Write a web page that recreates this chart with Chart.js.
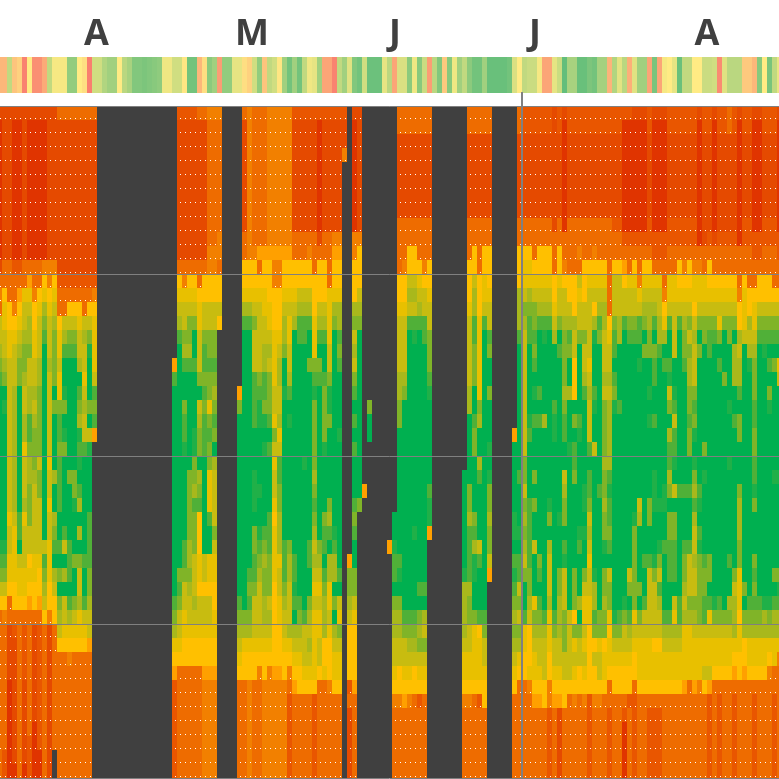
<!DOCTYPE html>
<html>
<head>
<meta charset="utf-8">
<title>Heatmap</title>
<script src="https://cdn.jsdelivr.net/npm/chart.js@4"></script>
<style>
  html, body { margin: 0; background: #fff; overflow: hidden; width: 779px; height: 779px; }
  canvas { position: absolute; left: -3px; }
  #stripChart { top: 0; }
  #heatChart { top: 92px; }
</style>
</head>
<body>
<canvas id="stripChart" width="785" height="93"></canvas>
<canvas id="heatChart" width="785" height="687"></canvas>
<script>
// month letters and the column they sit over
const monthLabels = ["A", "M", "J", "J", "A"];
const monthTicks = [19.9, 51, 79.6, 107.6, 142];

// day score shown in the strip above the heatmap, 0 (red) .. 5 (yellow) .. 10 (green)
const stripValues = [
  3, 3, 7, 3.5, 4, 1, 5, 1.5, 1.5, 2.5, 7, 5.3, 5.3, 5.3, 8.5, 8.5, 5, 4.5, 0.8, 6.5,
  6.5, 7.5, 8, 8, 5, 7.2, 7.8, 9, 9, 9.2, 9, 8.8, 8.6, 5.5, 5.5, 6.5, 6.5, 4.8, 9.5, 9.5,
  3, 4.5, 8.7, 8, 2, 8.5, 8.5, 5.8, 5.8, 4.5, 4, 6.5, 8.5, 3.5, 7, 6.5, 4.8, 8, 9.5, 8,
  9.5, 7, 5.5, 5.8, 8, 2.3, 2.3, 1, 7, 8, 6, 9, 9.5, 6.5, 9.7, 9.7, 9.7, 5.8, 7.2, 2.3,
  6.2, 6.2, 8.7, 5.5, 8.8, 6.7, 2, 7.2, 9, 3.7, 8.8, 5.5, 8, 7, 8.7, 9.5, 9.5, 8, 9.8, 9.8,
  9.8, 9.8, 9.5, 6.2, 5, 7, 6.7, 6.7, 5.3, 2.3, 2.3, 5.8, 6.7, 10, 7.8, 7.8, 9.8, 9.8, 9.2, 9.5,
  7.9, 7.9, 2.9, 7.5, 5.9, 7.2, 2.7, 6, 8, 8, 2.3, 9.3, 2.3, 5.3, 5, 5.8, 9.8, 7, 7, 5,
  5, 6.7, 6.7, 6.5, 1.3, 6, 7.2, 7.2, 7.2, 3.7, 3.7, 3, 8.8, 5, 9.3, 7, 5.7
];

// heat level per column, 48 half hour rows top to bottom, grouped in twelves
// a..n runs from red to green, # is no data
const heatColumns = [
  "baaaaaaaaaab dediijklnnnn nnnnnnnmlkig dddddddddddd",
  "bbbbbbbbbbbd dghhiijknmnn nnnnnnnmlkig edddddddddcc",
  "bbbbbbbbbbbd ddgghhiiiiii iiiiihiihhgd dbbbbaaaaaaa",
  "baaaaaaaaaac ddeghiiijjjj jjjjjihhhhgg dcbbbbbbbbba",
  "baaaaaaaaaac dfghijkknnnn nnnnnllnihhg dddddddddddd",
  "bbbbbbbbbbbd dhiijkkjiijj hiiijhiiihhg dccccbbbbbba",
  "baaaaaaaaaad fhijjkiijjll kjjkkkiighgf dddddddddccc",
  "baaaaaaaaaad degghhiijijk kkjiiiiihhgg dbbbbbbbaaaa",
  "baaaaaaaaaad dghiiijjkkkk kikkiiiihggf dcccccccccaa",
  "baaaaaaaaaae ghjklnnnnnnn nnnnnnnilkji gddddddddddd",
  "bbbbbbbbbbbe eghiiijiiiii ihiihiihhhgg ebbbbbbbbbbb",
  "bbbbbbbbbbbe ghijkkkknknn nnjnnjklnjig gddddddddd##",
  "dbbbbbbbbbbb cddghhihhkll kllllnnlnknk jigddddddddd",
  "dbbbbbbbbbbb cddijlnnmknm knnnnnlinjni ihgddddddddd",
  "dbbbbbbbbbbb cdgiklnnnnnn nnknnnnlllnl jhgedddddddd",
  "dbbbbbbbbbbb cdgiklnnnnnn nnkkmnnnknnk ihgddddddddd",
  "dbbbbbbbbbbb cdghiijnlkjm lmnljnjnkiij hhgddddddddd",
  "dbbbbbbbbbbb cddijiihijii lnnnnnnnlnnl ihgddddddddd",
  "dbbbbbbbbbbb cdgikmnnnkni mnnnnllllkkj iifddddddddd",
  "dbbbbbbbbbbb ceghhhhilklf",
  "", "", "", "", "", "", "", "", "", "", "", "", "", "", "",
  "############ ######flnnnn nnnnnnnnnnnl kjhgfccccccc",
  "cbbbbbbbbbbd ghijlnnnnnnn nnnnnnnnnklk iihgdddddddd",
  "cbbbbbbbbbbd ehiikjlnnkll mnnnnnnllkii hhggdddddddd",
  "cbbbbbbbbbbd ghikkjlnnnnn nnkkkkkjjkji ihggdddddddd",
  "cbbbbbbbbbbd ghiknnlnnnnm mkkjlkkkiiij ihggdddddddd",
  "dbbbbbbbbbbd dghhiiiknijk knjklggghhgi ihggdddddddd",
  "dbbbbbbbbbbd ggiikllklkll lnnnnnnniigi ihggfeeeeeee",
  "edddddddddee ggiikklkkhkl kkhhhlnnhhgi ihggfeeeeeee",
  "edddddddddee ggiikklkjklk njiiiikihhgg hhggfeeeeeee",
  "eddddddddeed ggig",
  "", "", "",
  "############ ########fknn nnnnnnnnnnnl kjihgddddddd",
  "dbbbbbbbbddg ghjlnnnnnnnn nnnnnnnnnnnn kjhggddddddd",
  "eeeeeeeeeeeg ghjlnnnnnnnn nnnnnnnnnlkl kjhggeeeeeee",
  "ddddddddddeg ghikiiilllln nnmmmnkkllki iihggddddddd",
  "ddddddddddfd ghiiiiiklmmn nnnmnnmlkjii iihgeddddddd",
  "ddddddddddfg ghhiijjllkmn mnnnnnlkjkkj jihggeeeeeee",
  "eeeeeeeeeefg gghhijikkkln lnnnnlllkkki jihgeeeeeeee",
  "eeeeeeeeeefe eggghhhhiihk ihiihghhhhgg ggggfeeeeeee",
  "eeeeeeeeeefe eggghijjiijh illkkjjjhiih hgggfeeeeeee",
  "eeeeeeeeeefg ghijjknnmnnn nnnnnnnlllkj iihggeeeeeee",
  "eeeeeeeeeefg ghihhiijlnmn nnnnnnnkjjii ijhgedcccccc",
  "cbbbbbbbbddg ghijnnnnnnnn nnnnnnnnllml njihgfdddddd",
  "cbbbbbbbbddg gijllnnnnnnn nnnnnnnnnnnl kjihggdddddd",
  "cbbbbbbbbddg gijllnnnnnnn nmnnnnnnnnnn liiihgdddddd",
  "cbbbbbbbbdeg gijlnnknnnnn nnnnnnnllnnk jijihgdddddd",
  "cbbbbbbbbddd ggghhhklmkkk kkjklkjijihi hhhhhgcccccc",
  "caaaaaaaabdg ggijlnklnnnn nnnnnnnkjihi hhiigddddddd",
  "cbbbbbbbbddg ggijlnnlkkkk mnnnnkllnlkj jjgghddddddd",
  "cbbbbbbbbddd dhhhhiikmmkn nnnnkjlnjjhh ihgggedddddd",
  "cbbbbbbbbefg ghjknnnnnnnn nnnnnnmljjnk njihhgdddddd",
  "cbbbbbbbbefg ghjjlklnnnnm nnnnnnnnnlni hkihhgdddddd",
  "cbbe",
  "############ ############ ########fkkj iggggcdbbbbb",
  "baaaaaaaaeeg ggjkijiklnln lnnnlklnnkki hggggfdddddd",
  "bbbbbbbbbegg gijknnnnnnnn nnnnk",
  "############ ############ ###f",
  "############ #########knn",
  "", "", "",
  "############ ############ #######f",
  "############ ############ #####nnmllnk jjiihgeddddd",
  "ddbbbbbbdddd gghiiiijjkkn nnnnnnnnlmnk jjiiggeddddd",
  "ddbbbbbbddde gghiiiijknnn nnnnnnnnnnnn lkiihgfddddd",
  "ddbbbbbbddgg ijilnnnnnnnn nnnnnnnnnnnn lkjihgeddddd",
  "ddbbbbbbddgg ijilmnnnnnnn nnnnnnmnnnnn lkjiggdddddd",
  "ddbbbbbbdddg hijlnnnnnnnn nnnnnnnnnnln kjkihgcddddd",
  "ddbbbbbbddde giillnnnnnnn nnnnnnnnnnln jikihgdddddd",
  "ddbbbbbbdddg ghiikkklmnnn nnnlmmf",
  "", "", "", "", "", "",
  "############ ############ ##nnnnnnnmjj jjihhgeddddd",
  "ddbbbbbbdddg gghiiiiijjnn nnnkkjlllljk kiihhgeddddd",
  "ddbbbbbbddgg ijjllkkknnlk knnnnkljmmnn khhhhgdddddd",
  "ddbbbbbbdddd ggghhhhhhkjn njlnnnnilnnn lghhhgcddddd",
  "ddbbbbbbddgg hhilnnnnnnnn nnnnnnnnnnnn lkiihggddddd",
  "ddbbbbbbddgg ghiilknnknnn mnmkkjkkif",
  "", "", "", "",
  "############ ###########f nnnnnmmnlmlk jkjihgdddddd",
  "ddbbbbbbddgg gjjjlnnnnnnn nnlnnnmnllik ikjhgddddddd",
  "ccbbbbbbddgh hikjiiiiiiii ikkikjkjiknn lhhggddddddd",
  "ccbbbbbbddgh hjkllnnnnnml nnnnlllllkkj iggghedddddd",
  "ccbbbbbbdddg hikklklnmnln nnknknninnnh kjihhgfddddd",
  "ccbbbbbbddgg hijlnnnnlnln nnnnnnnnklnl kjiihgfddddd",
  "ccbbbbbbddgg hijlmnnnnnjn nnnnnnnnnnnn ljiiiggddddd",
  "ccbbbbbbddgg hijlnnnnnnnn nnnnmknjiiij hhhggeeccccc",
  "bbbbbbbbbddd gghijnnnnlmm nnnnnnnnnnnn lkiihgfddddd",
  "ccbbbbbbddgg hiiknlnnnnnn nnnnnmnnnkkj jjiihgfbbbbb",
  "baaaaaaaadde giijkkkkjkll nnijkknlmiii kkkiiggddddd",
  "ccbbbbbbdddd ggijlknnjnnn mnnnnnnnnnnn iiiiigdddddd",
  "ccbbbbbbdddd gggjiigggnkn llknnnnnnkkk gkhihgeddddd",
  "ccbbbbbbdded ihiiknnnnnlm nnnnnnmlnnnj nkiiggdddddd",
  "ccbbbbbbdddg ggiikiijlnnn nnnmmnmnnkih hihihgeddddd",
  "ccbbbbbbdddg hiiiiihijiii lnllkijihiih hgggggcccccc",
  "ccbbbbbbddeg higjmnnnlmnn innnnnnnnmjj lkgiggeddddd",
  "ccbbbbbbdddg hijlknnnnnnn nnnlnnnnnnnn kkhiigeddddd",
  "ccbbbbbbdddg hijjiiijikkk kjkkjkkmnkkj kkghhgdddddd",
  "ccbbbbbbdddd dddghiijijjj jjlmllklnikk hghhgddccccc",
  "ccbbbbbbcddg iiikllnlkmnn nnnnnnnnnnnn mkihggdddddd",
  "ccbbbbbbcddg iiijjnnnnlnn nnnnnnnnnnnn lkihggdddddd",
  "caaaaaaaacdf giilnnnnnnnn nnnnnnnnnnnm kiihggdcaaaa",
  "caaaaaaaacdd hiiklnnnnnnn nnnnnnnnnikn ljihggcddddd",
  "baaaaaaaacdg hiiklnnnnnnn nnnnnmkkkkkk hihggdcccccc",
  "baaaaaaaacdd ehillnmnnnnn nnnnijnnnnkn kihhhgdddddd",
  "baaaaaaaacdg hijknknnnnnn nnnnnnnnlnnl iihhhgdddddd",
  "ccbbbbbbccdg hijjkknnmnmn nnnnkknnliii iihhhgdccccc",
  "baaaaaaaaccd hijlnkllnnln nnmmmnnnmkii iighhgdccccc",
  "baaaaaaaaccd hiijjlnnnnnn nnnnmnnmkilj iighhgdccccc",
  "baaaaaaaaccd deghjnlnnnnn nnnmmnnlnnnn ljihhgdddddd",
  "ccbbbbbbccdd hhilnnlmiknj lljknkklllnn ljihhgdddddd",
  "ccbbbbbbccdd hhiiiinnmlil lmninkklllni hjihhgdddddd",
  "ccbbbbbbccdg ghilnnnnnnnn nnnlnnnnnnnl ljihhgdddddd",
  "ccbbbbbbccde ghijkklnnnnn nnnlnnnlkkji jhhhhfdddddd",
  "ccbbbbbbccdg ghikikjjkklk knnlnnnliiik jhhhhddddddd",
  "ccbbbbbbccde hhgijiiiklkm nmkjljiijiik jihhhfdddddd",
  "baaaaaaaaade hhiknknnnnnn nnnlmnlmkkkk kihhhedddddd",
  "ccbbbbbbbbdd hhikknnnnnnn knmnnnnnlkkl lihhigdddddd",
  "ccbbbbbbbcdg ghikllnnnnnn nnnnnnnnkknl hihhifcccccc",
  "baaaaaaaabdd ghiklnnnnnnn nnnnnnnnnnnm kihhgddddddd",
  "ccbbbbbbbcdd ghihknlnnnnn nnnnnnnnnnnl kihhgdcccccc",
  "ccbbbbbbbcdd ghiknnnknnnn nnnnnnnnnnnn kihhgddddddd",
  "ddbbbbbbbcdd ghikknnnnmnn nmnnnnnnlnnj kihhgddddddd",
  "ccbbbbbbbcdd ghiknjjjnnln nnnnnnnnnkij jjhgfdcccccc",
  "baaaaaaaaadd deggjijjlnkk nnnkjjjkkhhh ghhggddddddd",
  "ccbbbbbbccdd ghhhinnnnnnn nnnnnnnnnnkn kjggfddddddd",
  "ccbbbbbbccdd dggjijmnnnnn nnnnnnnnnnnl kjhhgddddddd",
  "baaaaaaaaccd dghhijkkkllk kllmknnnklkl kjhhgdcccccc",
  "baaaaaaaaccd ggiklnnnnnnn nnnnnnnnnnnl kjhhgddddddd",
  "ccbbbbbbccdd ggiklmnnnnnn nnnnnnnnnnnm jjhhgddddddd",
  "ccbbbbbbccdd ggiklnlnkmnn nnnnnnnnnnnm kjhgeddddddd",
  "ccbbbbbbccdd dgiklnknnnnn nnmnnnnnnknl jjhhddcccccc",
  "baaaaaaaaccd dgiklnhinnnn nnmnnnnnnkml jjhedddddddd"
];

const levelKeys = "abcdefghijklmn";
const levelColors = ["#e03400", "#e54a00", "#e95600", "#ee6c00", "#f28000", "#ffa000", "#ffc000",
  "#e8c000", "#c8bc10", "#a8b81c", "#80b428", "#50b038", "#20b048", "#00b050"];
const noDataColor = "#404040";
const rowCount = 48;
const rowLines = [0, 12, 25, 37, 48];
const markerColumn = [105];

// decode the strings into rows of level numbers, null where there is no data
const heatGrid = heatColumns.map((col) => {
  const cells = col.replace(/ /g, "").padEnd(rowCount, "#").split("");
  return cells.map((c) => (c === "#" ? null : levelKeys.indexOf(c)));
});
const columnLabels = heatGrid.map((_, i) => i);

function mix(a, b, t) {
  return a.map((v, i) => Math.round(v + (b[i] - v) * t));
}

// three colour scale used on the strip
function stripColor(v) {
  const low = [248, 105, 107], mid = [255, 235, 132], high = [99, 190, 123];
  const c = v < 5 ? mix(low, mid, v / 5) : mix(mid, high, (v - 5) / 5);
  return `rgb(${c[0]},${c[1]},${c[2]})`;
}

// ----------- STRIP ----------- //

new Chart(document.getElementById("stripChart"), {
  type: "bar",
  data: {
    labels: columnLabels,
    datasets: [{
      data: stripValues.map(() => 1),
      backgroundColor: (ctx) => stripColor(stripValues[ctx.dataIndex]),
      barPercentage: 1,
      categoryPercentage: 1,
      inflateAmount: 0,
    }],
  },
  options: {
    responsive: false,
    animation: false,
    events: [],
    layout: { autoPadding: false },
    plugins: { legend: { display: false }, tooltip: { enabled: false } },
    scales: {
      x: { display: false },
      y: { display: false, min: 0, max: 1 },
      months: {
        type: "linear",
        position: "top",
        axis: "x",
        offset: false,
        min: 0,
        max: columnLabels.length,
        afterBuildTicks: (scale) => { scale.ticks = monthTicks.map((value) => ({ value })); },
        afterFit: (scale) => { scale.height = 57; },
        grid: { display: false, offset: false },
        border: { display: false },
        ticks: {
          autoSkip: false,
          maxRotation: 0,
          padding: -7,
          color: "#404040",
          font: { family: "'Open Sans'", size: 36, weight: "bold" },
          callback: (value, i) => monthLabels[i],
        },
      },
    },
  },
});

// ----------- HEATMAP ----------- //

const rowDatasets = [];
for (let r = 0; r < rowCount; r++) {
  rowDatasets.push({
    data: heatGrid.map(() => [r, r + 1]),
    backgroundColor: (ctx) => {
      const level = heatGrid[ctx.dataIndex][r];
      return level === null ? noDataColor : levelColors[level];
    },
    barPercentage: 1,
    categoryPercentage: 1,
    inflateAmount: 0,
    grouped: false,
    order: 2,
  });
}

// small white mark near the foot of every orange or red cell
const dotPoints = [];
heatGrid.forEach((col, c) => {
  col.forEach((level, r) => {
    if (level !== null && level <= 4) dotPoints.push({ x: c + 0.7, y: r + 0.893 });
  });
});

new Chart(document.getElementById("heatChart"), {
  type: "bar",
  data: {
    labels: columnLabels,
    datasets: [
      ...rowDatasets,
      {
        type: "scatter",
        data: dotPoints,
        xAxisID: "marker",
        pointStyle: "rect",
        pointRadius: 0.71,
        backgroundColor: "#ffffff",
        borderWidth: 0,
        order: 1,
      },
    ],
  },
  options: {
    responsive: false,
    animation: false,
    events: [],
    layout: { autoPadding: false },
    plugins: { legend: { display: false }, tooltip: { enabled: false } },
    scales: {
      x: { display: false },
      marker: {
        type: "linear",
        position: "top",
        axis: "x",
        offset: false,
        min: 0,
        max: columnLabels.length,
        afterBuildTicks: (scale) => { scale.ticks = markerColumn.map((value) => ({ value })); },
        grid: { color: "#808080", lineWidth: 2, drawTicks: false, offset: false, z: 1 },
        border: { display: false },
        ticks: { display: false },
      },
      y: {
        reverse: true,
        min: -1,
        max: 687 / 14 - 1,
        afterBuildTicks: (scale) => { scale.ticks = rowLines.map((value) => ({ value })); },
        grid: { color: "#808080", lineWidth: 1, drawTicks: false, z: 1 },
        border: { display: false },
        ticks: { display: false },
      },
    },
  },
});
</script>
</body>
</html>
